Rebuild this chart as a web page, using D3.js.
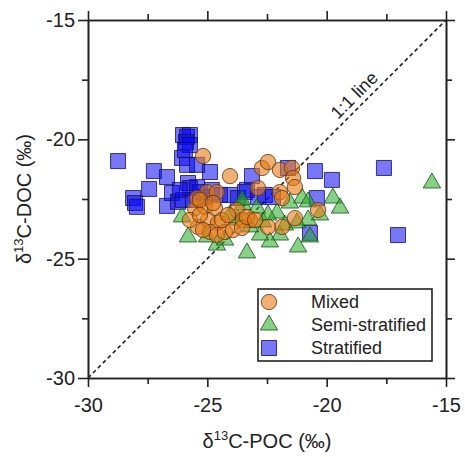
<!DOCTYPE html>
<html>
<head>
<meta charset="utf-8">
<script src="https://cdn.jsdelivr.net/npm/d3@7"></script>
<style>
  html, body { margin: 0; padding: 0; background: #fff; }
  svg { display: block; font-family: "Liberation Sans", Arial, sans-serif; }
</style>
</head>
<body>
<svg id="chart" width="465" height="457"></svg>
<script>
// δ13C of POC (x) vs DOC (y), grouped by water-column mixing state
const groups = ["Mixed", "Semi-stratified", "Stratified"];

const stratifiedPOC = [-28.74,-28.11,-28.03,-27.95,-27.44,-27.24,-26.69,-26.69,-26.48,-26.23,-26.02,-26.02,-25.85,-25.73,-25.89,-25.73,-26.06,-25.94,-25.85,-25.43,-24.89,-25.81,-25.73,-25.43,-25.31,-25.10,-24.81,-24.47,-24.05,-23.72,-23.34,-23.13,-23.42,-22.88,-22.59,-22.25,-21.62,-20.49,-19.78,-20.41,-20.70,-17.60,-17.01,-26.15,-25.60];
const stratifiedDOC = [-20.91,-22.46,-22.67,-22.83,-22.08,-21.33,-21.58,-22.79,-22.25,-22.62,-22.54,-19.82,-19.90,-19.82,-20.11,-20.24,-20.78,-20.45,-21.07,-21.07,-21.37,-21.83,-22.04,-22.00,-22.21,-22.42,-22.12,-22.33,-22.33,-22.46,-22.12,-21.54,-22.21,-22.42,-22.33,-22.42,-21.20,-21.33,-21.70,-22.46,-23.92,-21.20,-24.01,-22.12,-22.54];

const semiPOC = [-15.59,-19.74,-19.44,-21.03,-20.78,-20.78,-21.24,-20.70,-21.20,-21.96,-22.38,-23.34,-22.79,-24.60,-25.01,-23.51,-22.92,-23.21,-22.67,-21.54,-22.08,-23.72,-26.06,-25.81,-23.55,-24.05,-22.46,-20.28,-21.75,-24.26];
const semiDOC = [-21.83,-22.46,-22.88,-22.46,-22.62,-23.38,-23.50,-24.09,-24.51,-24.01,-24.30,-24.76,-24.01,-24.43,-24.09,-22.75,-22.88,-23.67,-23.46,-22.67,-23.09,-23.38,-23.25,-24.09,-22.54,-23.17,-23.17,-23.17,-23.59,-24.22];

const mixedPOC = [-25.18,-24.05,-22.71,-22.46,-21.96,-21.45,-21.41,-22.88,-21.96,-21.87,-21.33,-20.36,-21.33,-21.87,-22.46,-23.21,-23.76,-25.01,-24.60,-25.52,-25.10,-24.68,-25.43,-25.31,-25.39,-24.97,-24.55,-24.89,-24.60,-24.26,-23.93,-23.51,-24.76,-24.39,-23.55,-23.34,-23.00,-25.18,-25.73,-24.13,-25.31];
const mixedDOC = [-20.70,-21.54,-21.20,-20.95,-21.28,-21.20,-21.62,-22.04,-22.21,-22.46,-22.00,-22.96,-23.30,-23.67,-23.67,-23.38,-22.96,-22.21,-22.21,-22.88,-22.83,-22.88,-22.46,-22.54,-23.67,-23.38,-23.50,-23.88,-24.01,-23.88,-23.80,-23.38,-22.67,-23.38,-23.71,-23.25,-23.38,-23.80,-23.38,-23.17,-23.17];

const majorTicks = [-30, -25, -20, -15];
const minorTicks = [-27.5, -22.5, -17.5];
const tickLabels = ["-30", "-25", "-20", "-15"];

const svg = d3.select("#chart");
const plotL = 88, plotR = 446, plotT = 20, plotB = 378;

const x = d3.scaleLinear().domain([-30, -15]).range([plotL, plotR]);
const y = d3.scaleLinear().domain([-30, -15]).range([plotB, plotT]);

const axisColor = "#222";
const fmt = (d) => tickLabels[majorTicks.indexOf(d)];

function styleAxis(g) {
  g.selectAll("path.domain").attr("stroke", axisColor).attr("stroke-width", 1.6);
  g.selectAll(".tick line").attr("stroke", axisColor).attr("stroke-width", 1.6);
  g.selectAll(".tick text").attr("fill", "#222").attr("font-size", 20)
    .attr("font-family", "Liberation Sans, Arial, sans-serif");
}

// minor ticks on all four sides
svg.append("g").attr("transform", `translate(0,${plotB})`)
  .call(d3.axisBottom(x).tickValues(minorTicks).tickSize(6).tickSizeOuter(0).tickFormat(""))
  .call(styleAxis);
svg.append("g").attr("transform", `translate(0,${plotT})`)
  .call(d3.axisTop(x).tickValues(minorTicks).tickSize(6).tickSizeOuter(0).tickFormat(""))
  .call(styleAxis);
svg.append("g").attr("transform", `translate(${plotL},0)`)
  .call(d3.axisLeft(y).tickValues(minorTicks).tickSize(6).tickSizeOuter(0).tickFormat(""))
  .call(styleAxis);
svg.append("g").attr("transform", `translate(${plotR},0)`)
  .call(d3.axisRight(y).tickValues(minorTicks).tickSize(6).tickSizeOuter(0).tickFormat(""))
  .call(styleAxis);

// major ticks, labelled on bottom and left
svg.append("g").attr("transform", `translate(0,${plotB})`)
  .call(d3.axisBottom(x).tickValues(majorTicks).tickSize(9).tickSizeOuter(0).tickPadding(11).tickFormat(fmt))
  .call(styleAxis);
svg.append("g").attr("transform", `translate(0,${plotT})`)
  .call(d3.axisTop(x).tickValues(majorTicks).tickSize(9).tickSizeOuter(0).tickFormat(""))
  .call(styleAxis);
svg.append("g").attr("transform", `translate(${plotL},0)`)
  .call(d3.axisLeft(y).tickValues(majorTicks).tickSize(10).tickSizeOuter(0).tickPadding(3).tickFormat(fmt))
  .call(styleAxis);
svg.append("g").attr("transform", `translate(${plotR},0)`)
  .call(d3.axisRight(y).tickValues(majorTicks).tickSize(9).tickSizeOuter(0).tickFormat(""))
  .call(styleAxis);

// 1:1 reference line
svg.append("line")
  .attr("x1", x(-30)).attr("y1", y(-30))
  .attr("x2", x(-15)).attr("y2", y(-15))
  .attr("stroke", "#222").attr("stroke-width", 1.6).attr("stroke-dasharray", "4,3");

// label sits just above the dashed line, along its slope
const lblX = x(-18.5) - 4, lblY = y(-18.5) - 4;
svg.append("text")
  .attr("transform", `translate(${lblX},${lblY}) rotate(-45)`)
  .attr("text-anchor", "middle")
  .attr("font-size", 18).attr("fill", "#222")
  .text("1:1 line");

// markers
const styles = {
  "Mixed": { fill: "#E67C16", fo: 0.6, stroke: "#5a3412" },
  "Semi-stratified": { fill: "#22AC22", fo: 0.55, stroke: "#184e18" },
  "Stratified": { fill: "#0808F0", fo: 0.55, stroke: "#12125e" }
};
const symType = {
  "Mixed": d3.symbolCircle,
  "Semi-stratified": d3.symbolTriangle,
  "Stratified": d3.symbolSquare
};
const symSize = { "Mixed": 185, "Semi-stratified": 130, "Stratified": 225 };

function drawGroup(name, xs, ys) {
  const st = styles[name];
  const sym = d3.symbol().type(symType[name]).size(symSize[name]);
  const pts = xs.map((v, i) => ({ px: v, py: ys[i] }));
  svg.append("g").selectAll("path").data(pts).join("path")
    .attr("d", sym)
    .attr("transform", d => `translate(${x(d.px)},${y(d.py)})`)
    .attr("fill", st.fill).attr("fill-opacity", st.fo)
    .attr("stroke", st.stroke).attr("stroke-opacity", 0.8).attr("stroke-width", 1);
}

drawGroup("Stratified", stratifiedPOC, stratifiedDOC);
drawGroup("Semi-stratified", semiPOC, semiDOC);
drawGroup("Mixed", mixedPOC, mixedDOC);

// legend
const lg = svg.append("g");
lg.append("rect").attr("x", 258).attr("y", 289).attr("width", 174).attr("height", 72)
  .attr("fill", "#fff").attr("stroke", "#222").attr("stroke-width", 1.6);
groups.forEach((name, i) => {
  const cy = 302 + i * 23;
  const st = styles[name];
  lg.append("path")
    .attr("d", d3.symbol().type(symType[name]).size(symSize[name])())
    .attr("transform", `translate(269,${cy})`)
    .attr("fill", st.fill).attr("fill-opacity", st.fo)
    .attr("stroke", st.stroke).attr("stroke-opacity", 0.8).attr("stroke-width", 1);
  lg.append("text").attr("x", 311).attr("y", cy).attr("dy", "0.35em")
    .attr("font-size", 18).attr("fill", "#222").text(name);
});

// axis titles
const xt = svg.append("text").attr("x", (plotL + plotR) / 2).attr("y", 448)
  .attr("text-anchor", "middle").attr("font-size", 20).attr("fill", "#222");
xt.append("tspan").text("δ");
xt.append("tspan").attr("font-size", 13).attr("dy", -8).text("13");
xt.append("tspan").attr("dy", 8).text("C-POC (‰)");

const yt = svg.append("text")
  .attr("transform", `translate(31,${(plotT + plotB) / 2}) rotate(-90)`)
  .attr("text-anchor", "middle").attr("font-size", 20).attr("fill", "#222");
yt.append("tspan").text("δ");
yt.append("tspan").attr("font-size", 13).attr("dy", -8).text("13");
yt.append("tspan").attr("dy", 8).text("C-DOC (‰)");
</script>
</body>
</html>
